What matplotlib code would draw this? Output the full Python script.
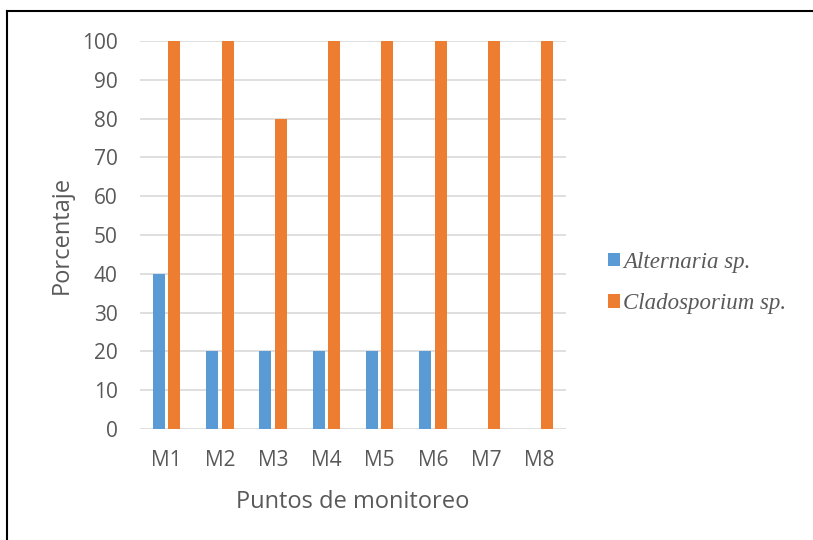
import matplotlib
matplotlib.use("Agg")
import matplotlib.pyplot as plt
import numpy as np
from matplotlib.patches import Patch
from matplotlib.lines import Line2D
from matplotlib.font_manager import FontProperties

puntos = ["M1", "M2", "M3", "M4", "M5", "M6", "M7", "M8"]
alternaria = [40, 20, 20, 20, 20, 20, 0, 0]
cladosporium = [100, 100, 80, 100, 100, 100, 100, 100]
y_ticks = [0, 10, 20, 30, 40, 50, 60, 70, 80, 90, 100]

azul = "#5B9BD5"
naranja = "#ED7D31"
gris_texto = "#595959"

plt.rcParams["font.family"] = ["Open Sans", "DejaVu Sans"]

fig = plt.figure(figsize=(8.13, 5.40), dpi=100)
ax = fig.add_axes([0.1722, 0.2056, 0.524, 0.7185])

x = np.arange(len(puntos))
ancho = 0.225
desp = 0.146
ax.bar(x - desp, alternaria, ancho, color=azul, zorder=3)
ax.bar(x + desp, cladosporium, ancho, color=naranja, zorder=3)

ax.set_xlim(-0.5, len(puntos) - 0.5)
ax.set_ylim(0, 100)
ax.set_yticks(y_ticks)
ax.set_xticks(x)
ax.set_xticklabels(puntos)
ax.yaxis.grid(True, color="#D9D9D9", linewidth=1.2, zorder=0)
ax.set_axisbelow(True)
for s in ax.spines.values():
    s.set_visible(False)
ax.tick_params(axis="both", length=0, labelsize=15, colors=gris_texto)
ax.tick_params(axis="y", pad=16)
ax.tick_params(axis="x", pad=15)

ax.set_xlabel("Puntos de monitoreo", fontsize=17, color=gris_texto, labelpad=14)
ax.set_ylabel("Porcentaje", fontsize=17, color=gris_texto, labelpad=6)

serif_it = FontProperties(family=["Liberation Serif", "DejaVu Serif"], style="italic", size=16.5)
handles = [Patch(facecolor=azul), Patch(facecolor=naranja)]
fig.legend(handles, ["Alternaria sp.", "Cladosporium sp."],
           loc="center left", bbox_to_anchor=(0.722, 0.476),
           frameon=False, handlelength=0.52, handleheight=0.52,
           handletextpad=0.15, labelspacing=0.9,
           prop=serif_it, labelcolor=gris_texto)

# marco parcial del grafico
fig.add_artist(Line2D([7 / 813, 7 / 813], [0, 1 - 11 / 540], color="black", lw=1.5))
fig.add_artist(Line2D([7 / 813, 1], [1 - 11 / 540, 1 - 11 / 540], color="black", lw=1.5))

fig.savefig("out.png", dpi=100)
